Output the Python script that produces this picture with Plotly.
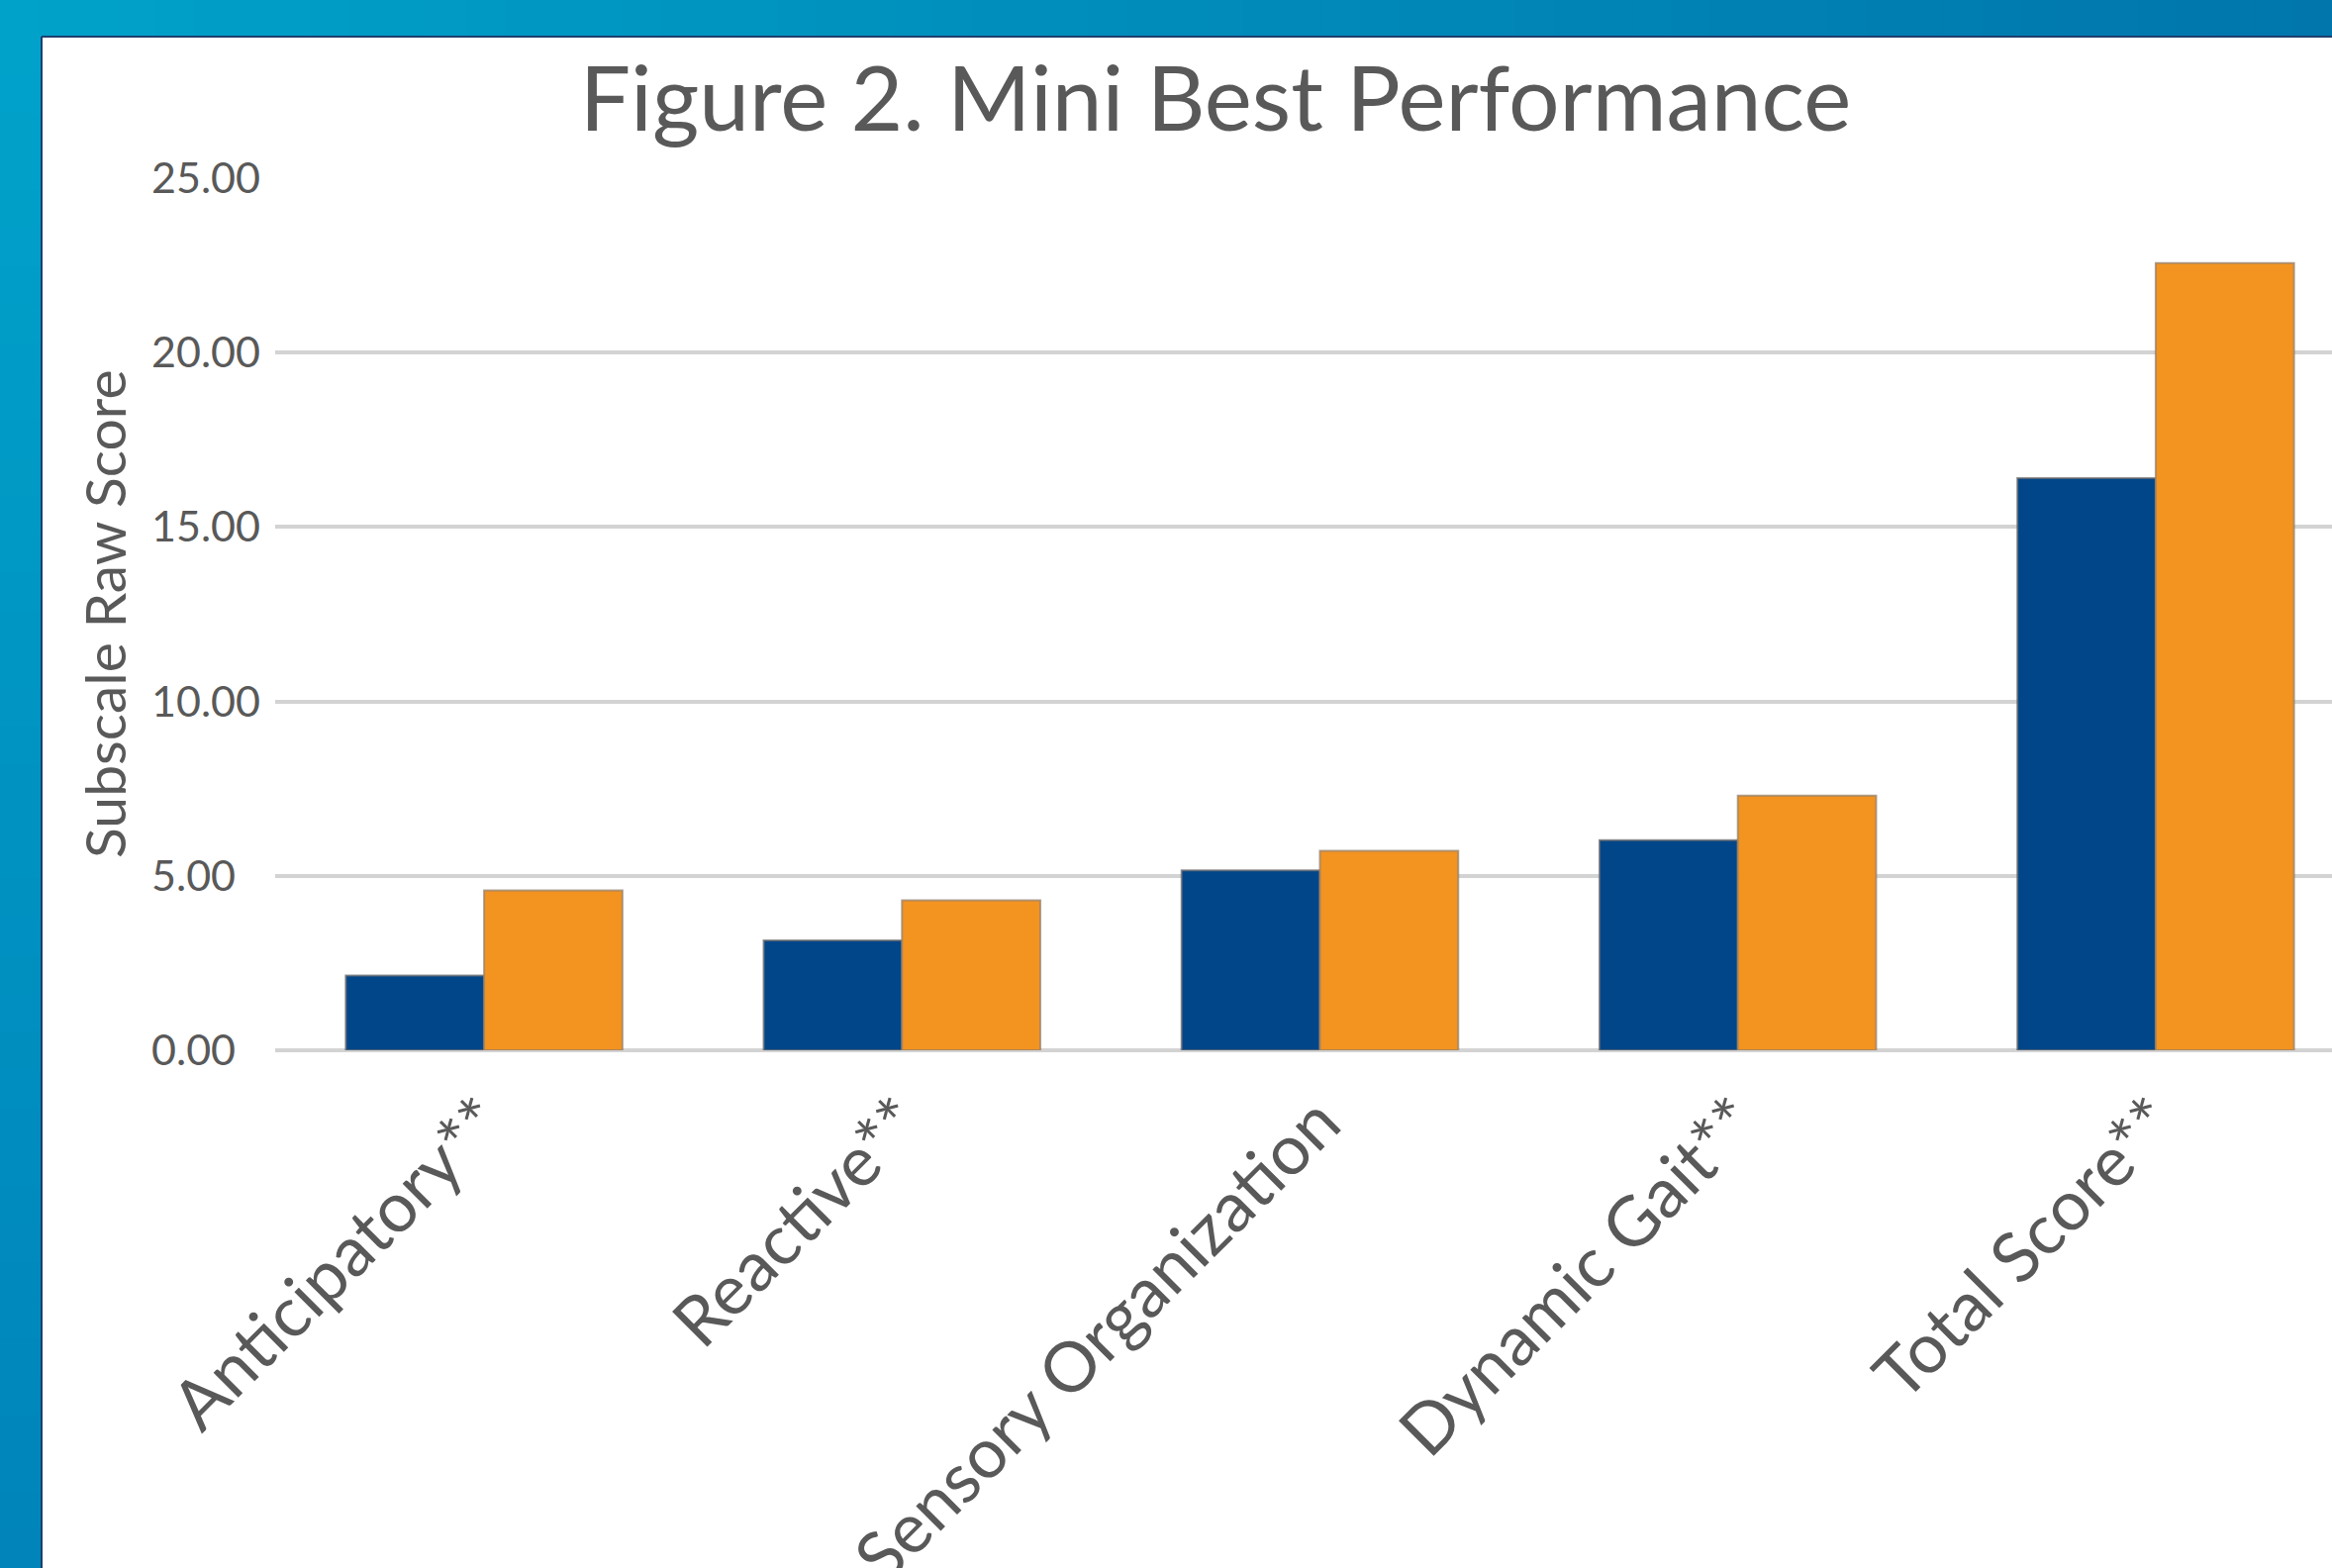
import plotly.graph_objects as go

# ---- data ----
categories = ["Anticipatory**", "Reactive**", "Sensory Organization", "Dynamic Gait**", "Total Score**"]
series_a = [2.14, 3.15, 5.16, 6.02, 16.40]   # dark blue
series_b = [4.58, 4.30, 5.72, 7.30, 22.57]   # orange
y_ticks = [0, 5, 10, 15, 20, 25]
y_tick_labels = ["0.00\u2007", "5.00\u2007", "10.00", "15.00", "20.00", "25.00"]

W, H = 2356, 1584
L, R, T, B = 278, 0, 180, 523
PW, PH = W - L - R, H - T - B

def px(x):
    return (x - L) / PW

def py(y):
    return (H - B - y) / PH

GRAY = "#595959"
FONT = "Lato"

fig = go.Figure()
fig.add_trace(go.Bar(x=categories, y=series_a, name="A",
                     marker=dict(color="#02468A", line=dict(color="rgba(110,110,110,0.75)", width=2))))
fig.add_trace(go.Bar(x=categories, y=series_b, name="B",
                     marker=dict(color="#F39320", line=dict(color="rgba(150,130,110,0.75)", width=2))))

# decorative blue frame (gradient approximated by strips)
shapes = []
def lerp(c1, c2, t):
    return "rgb(%d,%d,%d)" % tuple(round(a + (b - a) * t) for a, b in zip(c1, c2))

c_tl, c_tr, c_bl = (0, 162, 202), (0, 118, 172), (0, 132, 186)
N = 60
for i in range(N):
    x0 = W * i / N
    x1 = W * (i + 1) / N + 1
    shapes.append(dict(type="rect", xref="paper", yref="paper", x0=px(x0), x1=px(x1),
                       y0=py(37), y1=py(0), line=dict(width=0),
                       fillcolor=lerp(c_tl, c_tr, i / (N - 1)), layer="above"))
M = 40
for i in range(M):
    y0 = 37 + (H - 37) * i / M
    y1 = 37 + (H - 37) * (i + 1) / M + 1
    shapes.append(dict(type="rect", xref="paper", yref="paper", x0=px(0), x1=px(43),
                       y0=py(y1), y1=py(y0), line=dict(width=0),
                       fillcolor=lerp(c_tl, c_bl, i / (M - 1)), layer="above"))
# thin dark border of the white panel
shapes.append(dict(type="line", xref="paper", yref="paper", x0=px(42), x1=px(W),
                   y0=py(37), y1=py(37), line=dict(color="#1d3f6e", width=2), layer="above"))
shapes.append(dict(type="line", xref="paper", yref="paper", x0=px(42), x1=px(42),
                   y0=py(37), y1=py(H), line=dict(color="#1d3f6e", width=2), layer="above"))

fig.update_layout(
    width=W, height=H,
    margin=dict(l=L, r=R, t=T, b=B, pad=0, autoexpand=False),
    paper_bgcolor="white", plot_bgcolor="white",
    showlegend=False,
    barmode="group", bargap=0.338, bargroupgap=0,
    font=dict(family=FONT, color=GRAY),
    title=dict(text="Figure 2. Mini Best Performance", x=1228 / W, xanchor="center",
               y=1 - 100 / H, yanchor="middle", yref="container",
               font=dict(family=FONT, size=91, color=GRAY)),
    xaxis=dict(range=[-0.5, -0.5 + PW / 422.2], showgrid=False, showline=False, automargin=False,
               ticks="", tickangle=-45, tickfont=dict(family=FONT, size=70, color=GRAY),
               ticklabelstandoff=17),
    yaxis=dict(range=[0, 25], tickvals=y_ticks, ticktext=y_tick_labels, automargin=False,
               showgrid=True, gridcolor="#d3d3d3", gridwidth=3.5,
               zeroline=True, zerolinecolor="#d3d3d3", zerolinewidth=3.5,
               showline=False, ticks="", ticklabelstandoff=14,
               tickfont=dict(family=FONT, size=43, color=GRAY)),
    shapes=shapes,
    annotations=[dict(text="Subscale Raw Score", textangle=-90, xref="paper", yref="paper",
                      x=px(105), y=py(620), xanchor="center", yanchor="middle",
                      showarrow=False, font=dict(family=FONT, size=57, color=GRAY))],
)

fig.write_html("out.html", config={"displayModeBar": False},
               post_script="document.body.style.margin='0';document.body.style.overflow='hidden';")
